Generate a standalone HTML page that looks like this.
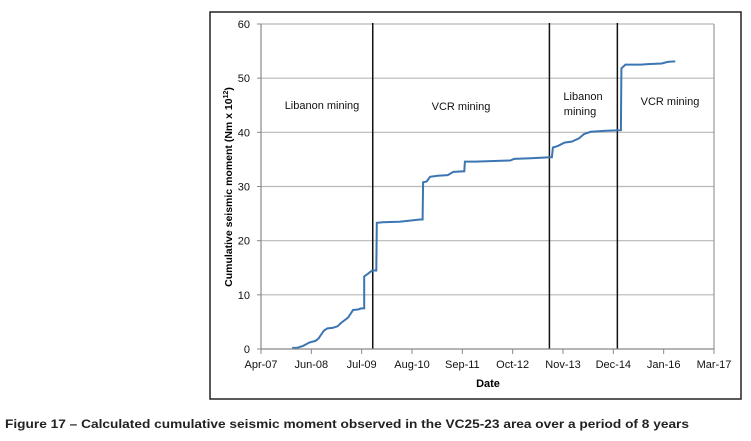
<!DOCTYPE html>
<html><head><meta charset="utf-8"><style>
body{margin:0;background:#fff;}
svg{display:block;font-family:"Liberation Sans",sans-serif;}
</style></head><body>
<svg width="751" height="441" viewBox="0 0 751 441">
<rect x="210" y="12" width="531" height="387" fill="#fff" stroke="#222" stroke-width="1.5"/>
<g id="grid"></g>
<g id="vlines"></g>
<path id="series" fill="none" stroke="#3b76b2" stroke-width="2"/>
<g id="axes"></g>
<g font-size="11" fill="#111" text-anchor="middle">
<text x="322" y="109">Libanon mining</text>
<text x="461" y="110">VCR mining</text>
<text x="583" y="100">Libanon</text>
<text x="580" y="115">mining</text>
<text x="670" y="105">VCR mining</text>
</g>
<text x="488" y="387" font-size="11" font-weight="bold" text-anchor="middle">Date</text>
<text transform="translate(232,187) rotate(-90)" font-size="10.5" font-weight="bold" text-anchor="middle">Cumulative seismic moment (Nm x 10<tspan font-size="7" dy="-4">12</tspan><tspan dy="4">)</tspan></text>
<text x="5" y="428" font-size="12" font-weight="bold" fill="#222" textLength="684" lengthAdjust="spacingAndGlyphs">Figure 17 – Calculated cumulative seismic moment observed in the VC25-23 area over a period of 8 years</text>
</svg>
<script>
const xTickLabels=["Apr-07","Jun-08","Jul-09","Aug-10","Sep-11","Oct-12","Nov-13","Dec-14","Jan-16","Mar-17"];
const yTicks=[0,10,20,30,40,50,60];
const dividerX=[2.22,5.73,7.08];
const dataX=[0.62,0.71,0.84,0.96,1.08,1.14,1.25,1.32,1.42,1.52,1.59,1.73,1.83,1.93,1.99,2.05,2.05,2.14,2.21,2.29,2.30,2.41,2.75,3.16,3.21,3.22,3.29,3.36,3.51,3.71,3.82,4.04,4.05,4.26,4.95,5.03,5.36,5.75,5.78,5.80,5.90,6.03,6.18,6.32,6.42,6.55,6.86,7.15,7.16,7.24,7.55,7.68,7.96,8.08,8.23];
const dataY=[0.2,0.2,0.6,1.2,1.5,1.9,3.4,3.8,3.9,4.2,4.8,5.8,7.2,7.3,7.5,7.5,13.4,14.0,14.5,14.5,23.3,23.4,23.5,23.9,23.9,30.8,30.9,31.8,32.0,32.1,32.7,32.8,34.6,34.6,34.8,35.1,35.2,35.4,35.4,37.2,37.5,38.1,38.3,38.9,39.7,40.1,40.3,40.4,51.8,52.5,52.5,52.6,52.7,53.0,53.1];
const L=261,R=714,T=24,B=349;
const xs=v=>L+(R-L)*v/(xTickLabels.length-1);
const ys=v=>B-(B-T)*v/60;
const NS="http://www.w3.org/2000/svg";
function mk(tag,attrs,parent){const e=document.createElementNS(NS,tag);for(const k in attrs)e.setAttribute(k,attrs[k]);parent.appendChild(e);return e;}
const grid=document.getElementById('grid'),axes=document.getElementById('axes'),vl=document.getElementById('vlines');
yTicks.forEach(t=>{
 if(t>0){const g=mk('line',{x1:L,x2:R,y1:ys(t),y2:ys(t),stroke:'#b8b8b8','stroke-width':1.2},grid);
 
 }
 const tl=mk('text',{x:250,y:ys(t)+4,'font-size':11,'text-anchor':'end',fill:'#111'},axes);
 tl.textContent=t;
 
 
 const tk=mk('line',{x1:L-4,x2:L,y1:ys(t),y2:ys(t),stroke:'#888'},axes);
 
 
});
const r=mk('line',{x1:R,x2:R,y1:T,y2:B,stroke:'#999','stroke-width':1.2},grid);


const ya=mk('line',{x1:L,x2:L,y1:T,y2:B,stroke:'#888','stroke-width':1.2},axes);


const xa=mk('line',{x1:L,x2:R,y1:B,y2:B,stroke:'#888','stroke-width':1.2},axes);


xTickLabels.forEach((lab,i)=>{
 const tk=mk('line',{x1:xs(i),x2:xs(i),y1:B,y2:B+5,stroke:'#888'},axes);
 
 
 const tl=mk('text',{x:xs(i),y:B+19,'font-size':11,'text-anchor':'middle',fill:'#111'},axes);
 tl.textContent=lab;
 
 
});
dividerX.forEach(d=>{
 const l=mk('line',{x1:xs(d),x2:xs(d),y1:T-1,y2:B,stroke:'#111','stroke-width':1.5},vl);
 
 
});
document.getElementById('series').setAttribute('d',dataX.map((x,i)=>(i?'L':'M')+xs(x).toFixed(1)+','+ys(dataY[i]).toFixed(1)).join(''));
</script>
</body></html>
